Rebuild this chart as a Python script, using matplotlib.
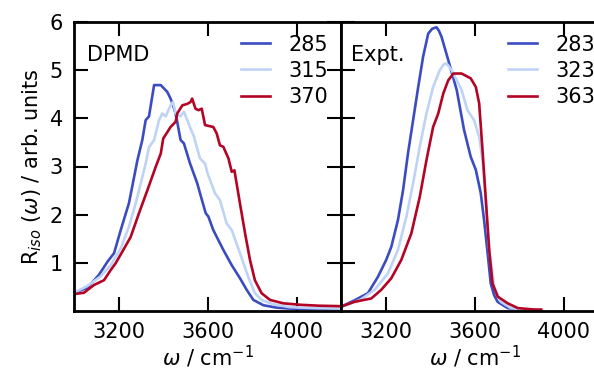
import numpy as np
import matplotlib
matplotlib.use('Agg')
import matplotlib.pyplot as plt

# DPMD spectra (left panel)
dpmd_labels = ['285', '315', '370']
w_285 = [3000, 3060, 3112, 3150, 3180, 3210, 3247, 3285, 3307, 3322, 3337, 3360, 3390, 3419, 3434, 3443,
         3457, 3479, 3494, 3521, 3554, 3566, 3592, 3604, 3626, 3671, 3709, 3746, 3776, 3806, 3851, 3910,
         3970, 4080, 4200]
r_285 = [0.38, 0.48, 0.75, 1.02, 1.2, 1.68, 2.24, 3.13, 3.55, 3.96, 4.04, 4.69, 4.69, 4.55, 4.41, 4.3,
         4.1, 3.55, 3.48, 3.07, 2.65, 2.45, 2.03, 1.96, 1.68, 1.27, 0.95, 0.68, 0.44, 0.23, 0.12, 0.07,
         0.05, 0.04, 0.04]
w_315 = [3000, 3060, 3120, 3165, 3210, 3247, 3277, 3300, 3322, 3337, 3360, 3382, 3397, 3412, 3434, 3445,
         3457, 3479, 3494, 3521, 3539, 3566, 3589, 3600, 3634, 3656, 3686, 3709, 3746, 3783, 3813, 3843,
         3895, 3970, 4080, 4200]
r_315 = [0.38, 0.52, 0.72, 0.95, 1.3, 1.75, 2.23, 2.65, 3.06, 3.4, 3.55, 3.96, 4.1, 4.04, 4.27, 4.34,
         4.1, 4.04, 4.14, 3.82, 3.62, 3.17, 3.06, 2.86, 2.44, 2.3, 1.82, 1.68, 1.2, 0.71, 0.37, 0.23,
         0.14, 0.08, 0.06, 0.05]
w_370 = [3000, 3045, 3090, 3135, 3165, 3187, 3217, 3255, 3292, 3330, 3367, 3390, 3401, 3434, 3457, 3464,
         3487, 3509, 3524, 3531, 3546, 3559, 3574, 3589, 3626, 3641, 3656, 3671, 3694, 3709, 3721, 3746,
         3769, 3791, 3813, 3843, 3881, 3940, 4015, 4100, 4200]
r_370 = [0.35, 0.38, 0.54, 0.64, 0.85, 0.99, 1.23, 1.54, 2.03, 2.51, 2.99, 3.27, 3.58, 3.82, 3.93, 4.1,
         4.27, 4.3, 4.34, 4.41, 4.2, 4.17, 4.2, 3.86, 3.82, 3.69, 3.44, 3.41, 3.17, 2.89, 2.92, 2.23,
         1.61, 1.06, 0.64, 0.37, 0.23, 0.16, 0.13, 0.11, 0.1]

# Experimental spectra (right panel)
expt_labels = ['283', '323', '363']
w_283 = [3000, 3060, 3121, 3166, 3203, 3226, 3256, 3279, 3301, 3324, 3347, 3369, 3392, 3410, 3429, 3440,
         3452, 3482, 3520, 3553, 3583, 3606, 3628, 3643, 3659, 3673, 3688, 3704, 3749, 3800, 3870]
r_283 = [0.09, 0.22, 0.37, 0.71, 1.06, 1.33, 1.89, 2.51, 3.27, 3.96, 4.65, 5.28, 5.76, 5.86, 5.89, 5.82,
         5.69, 5.21, 4.59, 3.76, 3.2, 2.93, 2.45, 1.89, 1.2, 0.57, 0.33, 0.19, 0.06, 0.03, 0.02]
w_323 = [3000, 3090, 3151, 3211, 3256, 3294, 3324, 3354, 3384, 3414, 3444, 3460, 3470, 3480, 3497, 3542,
         3568, 3598, 3621, 3636, 3651, 3666, 3689, 3719, 3764, 3820, 3880]
r_323 = [0.08, 0.24, 0.44, 0.78, 1.27, 1.96, 2.65, 3.41, 4.1, 4.65, 5.0, 5.11, 5.14, 5.11, 5.0, 4.59,
         4.17, 3.96, 3.62, 3.13, 2.3, 1.27, 0.5, 0.19, 0.06, 0.03, 0.02]
w_363 = [3000, 3060, 3136, 3181, 3226, 3271, 3316, 3354, 3384, 3414, 3437, 3460, 3482, 3505, 3542, 3583,
         3606, 3621, 3636, 3651, 3666, 3681, 3704, 3749, 3795, 3870, 3900]
r_363 = [0.09, 0.19, 0.26, 0.44, 0.68, 1.06, 1.61, 2.37, 3.13, 3.82, 4.1, 4.52, 4.79, 4.93, 4.93, 4.83,
         4.65, 4.31, 3.34, 2.3, 1.27, 0.57, 0.3, 0.16, 0.06, 0.03, 0.03]

colors = ['#3b4cc0', '#bfd3f6', '#b40426']

plt.rcParams['font.family'] = 'DejaVu Sans'
plt.rcParams['font.size'] = 15
plt.rcParams['mathtext.fontset'] = 'dejavusans'

fig = plt.figure(figsize=(5.94, 3.75), dpi=100)
ax1 = fig.add_axes([74 / 594, 64 / 375, 267 / 594, 289 / 375])
ax2 = fig.add_axes([341 / 594, 64 / 375, 267 / 594, 289 / 375])

panels = [
    (ax1, 'DPMD', 0.05, dpmd_labels, [(w_285, r_285), (w_315, r_315), (w_370, r_370)]),
    (ax2, 'Expt.', 0.037, expt_labels, [(w_283, r_283), (w_323, r_323), (w_363, r_363)]),
]

for ax, title, tx, labels, series in panels:
    for (w, r), lab, c in zip(series, labels, colors):
        ax.plot(w, r, color=c, lw=1.9, label=lab)
    ax.set_xlim(3000, 4200)
    ax.set_ylim(0, 6)
    ax.set_xticks([3200, 3600, 4000])
    ax.set_yticks([1, 2, 3, 4, 5, 6])
    ax.tick_params(direction='in', top=True, right=True, length=10, width=1.5, pad=8)
    for sp in ax.spines.values():
        sp.set_linewidth(2)
    ax.set_xlabel(r'$\omega$ / cm$^{-1}$', labelpad=1)
    ax.text(tx, 0.865, title, transform=ax.transAxes, fontsize=15)
    ax.legend(loc='upper right', frameon=False, handlelength=1.4, handletextpad=0.9,
              labelspacing=0.3, borderaxespad=0.2, fontsize=15)

ax1.set_ylabel(r'R$_{iso}$ ($\omega$) / arb. units')
ax2.tick_params(labelleft=False)

fig.savefig('out.png', dpi=100)
